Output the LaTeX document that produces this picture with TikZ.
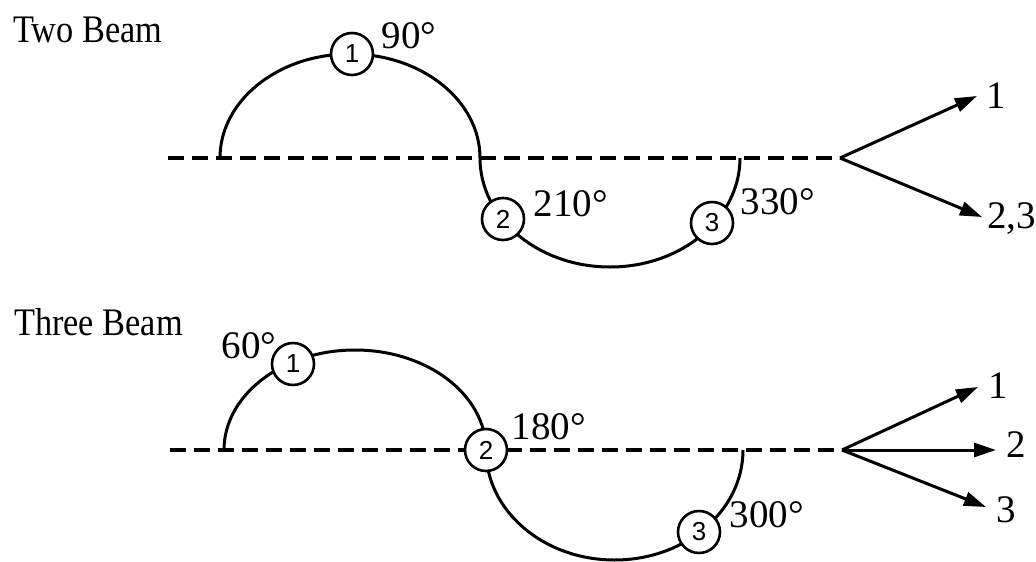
\documentclass[tikz,border=0pt]{standalone}
\usepackage{fontspec}
\setmainfont{Liberation Serif}
\newfontfamily\titlefont[FakeStretch=0.88]{Liberation Serif}
\newfontfamily\circfont{Liberation Sans}
\usetikzlibrary{arrows.meta}
\begin{document}
\begin{tikzpicture}[x=1pt,y=-1pt,
  wave/.style={line width=3pt},
  axis/.style={line width=3.2pt, dash pattern=on 16pt off 8pt},
  ptcirc/.style={circle, draw, fill=white, line width=2.6pt, minimum size=42pt, inner sep=0pt, font=\circfont\fontsize{26}{26}\selectfont},
  deg/.style={font=\fontsize{39}{39}\selectfont, inner sep=0pt},
  ttl/.style={font=\titlefont\fontsize{39}{39}\selectfont, inner sep=0pt, anchor=base west},
  beam/.style={line width=3pt, -{Triangle[length=22pt,width=14pt]}},
  blab/.style={font=\fontsize{39}{39}\selectfont, inner sep=0pt}
]
\useasboundingbox (0,0) rectangle (1036,562);

% ---------------- Two Beam ----------------
\node[ttl] (t1) at (13,42) {Two Beam};
\coordinate (a1s) at (168,158);
\coordinate (a1e) at (840,158);
\draw[axis] (a1s) -- (a1e);
\draw[wave] (220,158) arc[start angle=180, end angle=0, x radius=130pt, y radius=104pt]
  arc[start angle=180, end angle=360, x radius=130pt, y radius=109pt];
\node[ptcirc] (u1) at (352,54) {1};
\node[ptcirc] (u2) at (503,219) {2};
\node[ptcirc] (u3) at (712,223) {3};
\node[deg] (d90) at (409,36) {90°};
\node[deg] (d210) at (571,204) {210°};
\node[deg] (d330) at (778,202) {330°};
\coordinate (tip11) at (977,96);
\coordinate (tip123) at (982,217);
\draw[beam] (a1e) -- (tip11);
\draw[beam] (a1e) -- (tip123);
\node[blab, anchor=base west] (l11) at (986,108) {1};
\node[blab, anchor=base west] (l123) at (987,228) {2,3};

% ---------------- Three Beam ----------------
\node[ttl] (t2) at (14,335) {Three Beam};
\coordinate (a2s) at (170,450);
\coordinate (a2e) at (842,450);
\draw[axis] (a2s) -- (a2e);
\draw[wave] (224,450) arc[start angle=180, end angle=0, x radius=131pt, y radius=100pt]
  arc[start angle=180, end angle=360, x radius=128.5pt, y radius=110pt];
\node[ptcirc] (v1) at (293,364) {1};
\node[ptcirc] (v2) at (486,450) {2};
\node[ptcirc] (v3) at (699,532) {3};
\node[deg] (d60) at (249,346) {60°};
\node[deg] (d180) at (549,427) {180°};
\node[deg] (d300) at (767,515) {300°};
\coordinate (tip21) at (978,387);
\coordinate (tip22) at (996,450);
\coordinate (tip23) at (986,507);
\draw[beam] (a2e) -- (tip21);
\draw[beam] (a2e) -- (tip22);
\draw[beam] (a2e) -- (tip23);
\node[blab, anchor=base west] (l21) at (988,398) {1};
\node[blab, anchor=base west] (l22) at (1006,457) {2};
\node[blab, anchor=base west] (l23) at (996,522) {3};
\end{tikzpicture}
\end{document}
